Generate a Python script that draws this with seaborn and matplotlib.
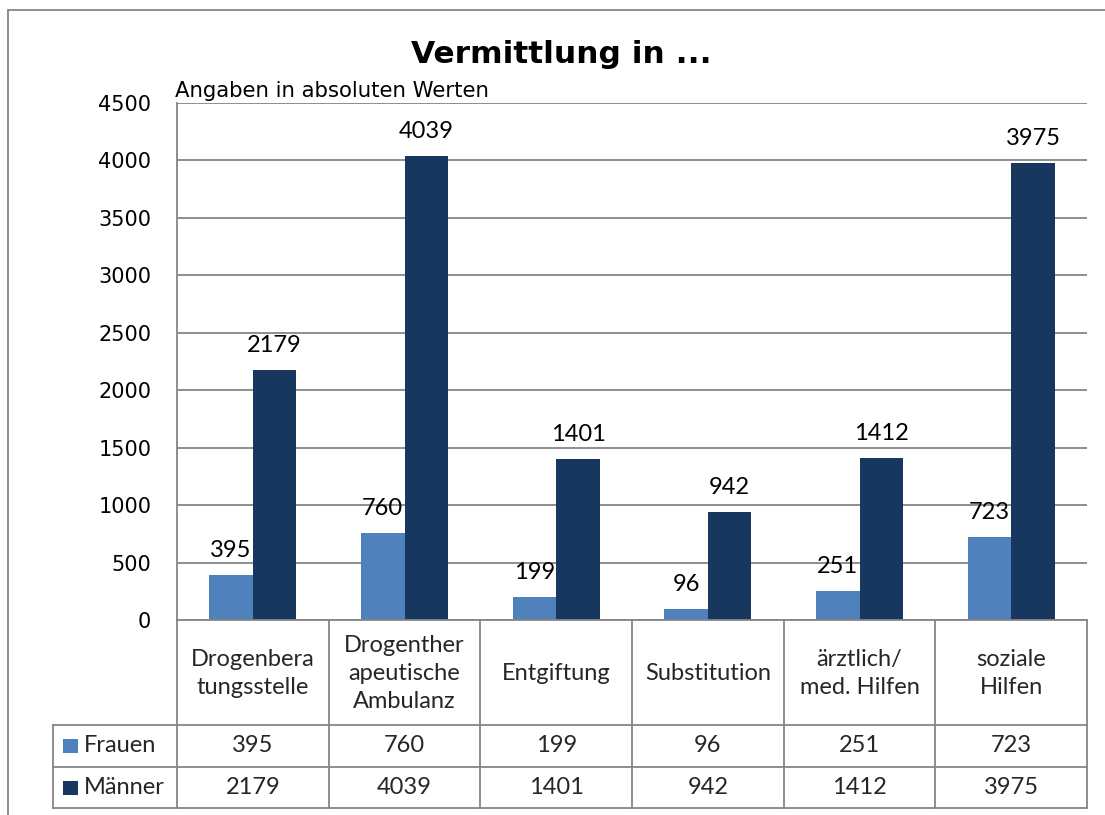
import matplotlib
matplotlib.use("Agg")
import matplotlib.pyplot as plt
import seaborn as sns
import pandas as pd
from matplotlib.lines import Line2D
from matplotlib.patches import Rectangle

# ---- data ----
categories = ["Drogenbera\ntungsstelle", "Drogenther\napeutische\nAmbulanz", "Entgiftung",
              "Substitution", "ärztlich/\nmed. Hilfen", "soziale\nHilfen"]
series_names = ["Frauen", "Männer"]
frauen = [395, 760, 199, 96, 251, 723]
maenner = [2179, 4039, 1401, 942, 1412, 3975]
y_ticks = [0, 500, 1000, 1500, 2000, 2500, 3000, 3500, 4000, 4500]
colors = ["#4F81BD", "#17375E"]
title = "Vermittlung in ..."
subtitle = "Angaben in absoluten Werten"

sns.set_style("white")
plt.rcParams["font.family"] = ["DejaVu Sans"]

W, H = 1105, 815
fig = plt.figure(figsize=(W / 100, H / 100), dpi=100)


def fx(x):
    return x / W


def fy(y):
    return 1 - y / H


GRID = "#868686"
PL, PR, PT, PB = 177, 1087, 103, 620
FS = 17

ax = fig.add_axes([fx(PL), fy(PB), (PR - PL) / W, (PB - PT) / H])
df = pd.DataFrame({
    "Kategorie": categories * 2,
    "Geschlecht": [series_names[0]] * len(categories) + [series_names[1]] * len(categories),
    "Wert": frauen + maenner,
})
sns.barplot(data=df, x="Kategorie", y="Wert", hue="Geschlecht", order=categories,
            hue_order=series_names, palette=colors, saturation=1, width=0.575,
            linewidth=0, errorbar=None, legend=False, ax=ax)

for cont in ax.containers:
    ax.bar_label(cont, fmt="%d", padding=10, fontsize=FS, family="Lato", color="black")

ax.set_xlim(-0.5, len(categories) - 0.5)
ax.set_ylim(0, 4500)
ax.set_yticks(y_ticks)
ax.set_yticklabels([str(t) for t in y_ticks])
ax.set_xticks(range(len(categories)))
ax.set_xticklabels([""] * len(categories))
ax.set_xlabel("")
ax.set_ylabel("")
ax.tick_params(axis="y", length=0, pad=18.5, labelsize=15, labelcolor="black")
ax.tick_params(axis="x", length=0)
ax.yaxis.grid(True, color=GRID, linewidth=1.3)
ax.set_axisbelow(True)
for s in ["top", "right"]:
    ax.spines[s].set_visible(False)
for s in ["left", "bottom"]:
    ax.spines[s].set_color(GRID)
    ax.spines[s].set_linewidth(1.3)

# ---- data table ----
TL, TB = 53, 808
R1, R2 = 725, 767
colw = (PR - PL) / len(categories)
tax = fig.add_axes([fx(TL), fy(TB), (PR - TL) / W, (TB - PB) / H])
tax.set_xlim(-0.5 - (PL - TL) / colw, len(categories) - 0.5)
tax.set_ylim(TB, PB)
tax.axis("off")


def px2x(xp):
    return -0.5 + (xp - PL) / colw


lkw = dict(color=GRID, linewidth=1.3, clip_on=False, solid_capstyle="projecting")
x_left = px2x(TL)
x_right = len(categories) - 0.5
for yy in [R1, R2, TB]:
    tax.plot([x_left, x_right], [yy, yy], **lkw)
tax.plot([x_left, x_left], [R1, TB], **lkw)
for i in range(len(categories) + 1):
    tax.plot([i - 0.5, i - 0.5], [PB, TB], **lkw)

for i, c in enumerate(categories):
    tax.text(i, (PB + R1) / 2 + 1, c, ha="center", va="center", multialignment="center",
             fontsize=FS, family="Lato", linespacing=1.42)
    tax.text(i, (R1 + R2) / 2, str(frauen[i]), ha="center", va="center", fontsize=FS, family="Lato")
    tax.text(i, (R2 + TB) / 2, str(maenner[i]), ha="center", va="center", fontsize=FS, family="Lato")

for name, col, (y0, y1) in zip(series_names, colors, [(R1, R2), (R2, TB)]):
    yc = (y0 + y1) / 2
    tax.add_patch(Rectangle((px2x(63), yc + 7), px2x(78) - px2x(63), -14,
                            facecolor=col, edgecolor="none", clip_on=False))
    tax.text(px2x(84), yc, name, ha="left", va="center", fontsize=FS, family="Lato")

# ---- outer frame ----
fig.add_artist(Line2D([fx(8), fx(8)], [fy(10), fy(815)], color=GRID, linewidth=1.3,
                      transform=fig.transFigure))
fig.add_artist(Line2D([fx(8), fx(1105)], [fy(10), fy(10)], color=GRID, linewidth=1.3,
                      transform=fig.transFigure))

# ---- titles ----
fig.text(fx(561.5), fy(63), title, ha="center", va="baseline", fontsize=22.5,
         fontweight="bold", color="black")
fig.text(fx(175), fy(97), subtitle, ha="left", va="baseline", fontsize=15.3, color="black")

fig.savefig("out.png", dpi=100)
